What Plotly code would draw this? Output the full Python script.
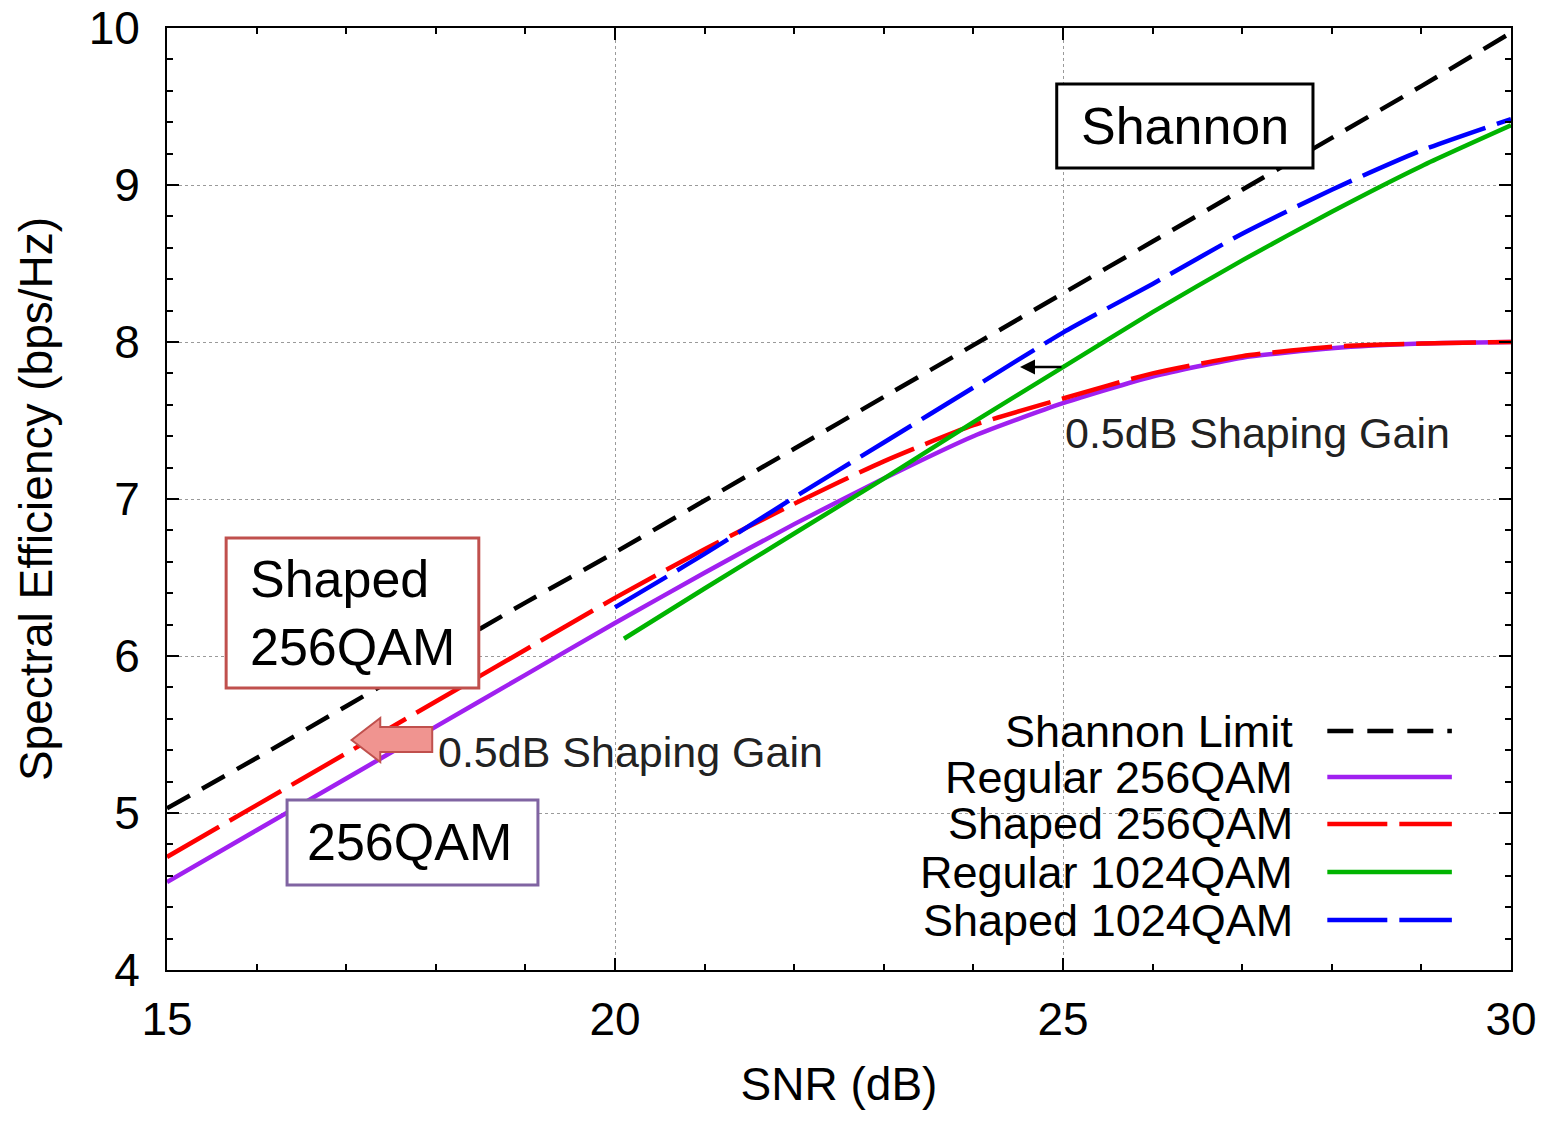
import plotly.graph_objects as go

# SNR grid (dB)
snr = [15, 16, 17, 18, 19, 20, 21, 22, 23, 24, 25, 26, 27, 28, 29, 30]

# Spectral efficiency (bps/Hz)
shannon_limit = [5.03, 5.35, 5.68, 6.01, 6.34, 6.66, 6.99, 7.32, 7.65, 7.98, 8.31, 8.64, 8.97, 9.30, 9.63, 9.97]
regular_256qam = [4.56, 4.89, 5.22, 5.55, 5.88, 6.21, 6.53, 6.84, 7.13, 7.40, 7.61, 7.78, 7.90, 7.96, 7.99, 8.00]
shaped_256qam = [4.72, 5.05, 5.38, 5.71, 6.04, 6.37, 6.68, 6.97, 7.24, 7.47, 7.64, 7.80, 7.91, 7.97, 7.99, 8.00]

snr_1024 = [20.1, 21, 22, 23, 24, 25, 26, 27, 28, 29, 30]
regular_1024qam = [6.11, 6.43, 6.78, 7.13, 7.49, 7.84, 8.19, 8.52, 8.83, 9.12, 9.38]
snr_1024s = [20, 21, 22, 23, 24, 25, 26, 27, 28, 29, 30]
shaped_1024qam = [6.31, 6.65, 7.01, 7.36, 7.71, 8.06, 8.37, 8.69, 8.97, 9.22, 9.42]

x_ticks = [15, 20, 25, 30]
y_ticks = [4, 5, 6, 7, 8, 9, 10]

series_names = ["Shannon Limit", "Regular 256QAM", "Shaped 256QAM", "Regular 1024QAM", "Shaped 1024QAM"]
colors = ["#000000", "#a020f0", "#ff0000", "#00b400", "#0000ff"]
dashes = ["26px,14px", "solid", "60px,12px", "solid", "60px,12px"]

FONT = "Liberation Sans, Arial, sans-serif"
LW = 4.5

fig = go.Figure()
series = [
    (snr, shannon_limit),
    (snr, regular_256qam),
    (snr, shaped_256qam),
    (snr_1024, regular_1024qam),
    (snr_1024s, shaped_1024qam),
]
for (xs, ys), name, c, d in zip(series, series_names, colors, dashes):
    fig.add_trace(go.Scatter(
        x=xs, y=ys, mode="lines", name=name,
        line=dict(color=c, width=LW, dash=d, shape="spline", smoothing=0.6),
        showlegend=False,
    ))

shapes = []
annotations = []

# white panel behind the key
shapes.append(dict(type="rect", xref="x", yref="y", x0=22.6, x1=29.45, y0=4.14, y1=5.72,
                   fillcolor="white", line=dict(width=0), layer="below"))

# key: right-aligned labels with line samples
key_y = [5.522, 5.229, 4.930, 4.624, 4.318]
for name, c, d, ky in zip(series_names, colors, dashes, key_y):
    annotations.append(dict(x=27.59, y=ky, xref="x", yref="y", text=name, showarrow=False,
                            xanchor="right", yanchor="middle",
                            font=dict(family=FONT, size=45, color="black")))
    shapes.append(dict(type="line", xref="x", yref="y", x0=27.95, x1=29.34, y0=ky, y1=ky,
                       line=dict(color=c, width=LW, dash=d)))

# labelled boxes
boxes = [
    dict(x0=24.93, x1=27.79, y0=9.108, y1=9.643, color="black"),
    dict(x0=15.66, x1=18.48, y0=5.796, y1=6.752, color="#c0504d"),
    dict(x0=16.34, x1=19.14, y0=4.541, y1=5.083, color="#8064a2"),
]
for b in boxes:
    shapes.append(dict(type="rect", xref="x", yref="y", x0=b["x0"], x1=b["x1"], y0=b["y0"], y1=b["y1"],
                       fillcolor="white", line=dict(color=b["color"], width=3), layer="above"))

annotations.append(dict(x=26.36, y=9.376, xref="x", yref="y", text="Shannon", showarrow=False,
                        xanchor="center", yanchor="middle", font=dict(family=FONT, size=52, color="black")))
annotations.append(dict(x=15.90, y=6.274, xref="x", yref="y", text="Shaped<br>256QAM", showarrow=False,
                        xanchor="left", yanchor="middle", align="left",
                        font=dict(family=FONT, size=52, color="black")))
annotations.append(dict(x=17.71, y=4.815, xref="x", yref="y", text="256QAM", showarrow=False,
                        xanchor="center", yanchor="middle", font=dict(family=FONT, size=52, color="black")))

# block arrow marking the shaping gain at low SNR
arrow_path = ("M 17.06,5.465 L 17.38,5.605 L 17.38,5.548 L 17.96,5.548 "
              "L 17.96,5.389 L 17.38,5.389 L 17.38,5.325 Z")
shapes.append(dict(type="path", xref="x", yref="y", path=arrow_path,
                   fillcolor="#f09490", line=dict(color="#c0504d", width=2), layer="above"))

annotations.append(dict(x=18.0, y=5.39, xref="x", yref="y", text="0.5dB Shaping Gain", showarrow=False,
                        xanchor="left", yanchor="middle", font=dict(family=FONT, size=43, color="#222222")))
annotations.append(dict(x=25.0, y=7.42, xref="x", yref="y", text="0.5dB Shaping Gain", showarrow=False,
                        xanchor="left", yanchor="middle", font=dict(family=FONT, size=43, color="#222222")))

# small arrow between the 1024QAM curves
annotations.append(dict(x=24.52, y=7.84, ax=25.0, ay=7.84, xref="x", yref="y", axref="x", ayref="y",
                        text="", showarrow=True, arrowhead=2, arrowsize=1.2, arrowwidth=2.5,
                        arrowcolor="black"))

axis_common = dict(
    showline=True, linecolor="black", linewidth=2, mirror="allticks",
    ticks="inside", ticklen=12, tickwidth=1.5, tickcolor="black",
    showgrid=True, gridcolor="#9a9a9a", griddash="dot", gridwidth=1,
    zeroline=False, automargin=False,
    tickfont=dict(family=FONT, size=46, color="black"),
)

fig.update_layout(
    width=1557, height=1124,
    margin=dict(l=167, r=46, t=28, b=154),
    paper_bgcolor="white", plot_bgcolor="white",
    showlegend=False,
    xaxis=dict(
        range=[15, 30], tickvals=x_ticks, ticktext=[str(v) for v in x_ticks],
        minor=dict(dtick=1, ticks="inside", ticklen=6, tickcolor="black", showgrid=False),
        ticklabelstandoff=8,
        title=dict(text="SNR (dB)", font=dict(family=FONT, size=46, color="black"), standoff=24),
        **axis_common,
    ),
    yaxis=dict(
        range=[4, 10], tickvals=y_ticks, ticktext=[str(v) for v in y_ticks],
        minor=dict(dtick=0.2, ticks="inside", ticklen=6, tickcolor="black", showgrid=False),
        ticklabelstandoff=16,
        title=dict(text="Spectral Efficiency (bps/Hz)", font=dict(family=FONT, size=46, color="black"), standoff=22),
        **axis_common,
    ),
    shapes=shapes,
    annotations=annotations,
)

fig.write_html("out.html")
